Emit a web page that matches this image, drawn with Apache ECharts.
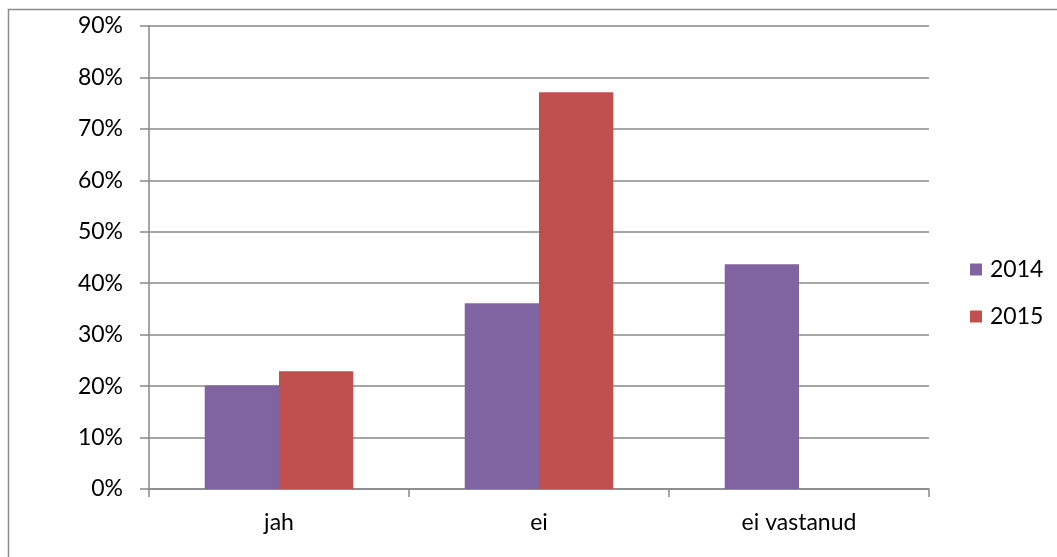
<!DOCTYPE html>
<html>
<head>
<meta charset="utf-8">
<script src="https://cdn.jsdelivr.net/npm/echarts@6/dist/echarts.min.js"></script>
<style>
html,body{margin:0;padding:0;background:#fff;}
#c{width:1057px;height:557px;}
</style>
</head>
<body>
<div id="c"></div>
<script>
const categories = ['jah', 'ei', 'ei vastanud'];
const seriesNames = ['2014', '2015'];
const values2014 = [20.1, 36.1, 43.7];
const values2015 = [22.9, 77.1, null];
const yTicks = {min: 0, max: 90, interval: 10};

const chart = echarts.init(document.getElementById('c'), null, {renderer: 'canvas'});
const font = 'Lato, "Open Sans", sans-serif';
chart.setOption({
  animation: false,
  backgroundColor: '#fff',
  graphic: [{
    type: 'rect',
    shape: {x: 8.5, y: 9.5, width: 1100, height: 600},
    style: {fill: 'none', stroke: '#8c8c8c', lineWidth: 1.5},
    silent: true
  }],
  grid: {left: 149, top: 26, right: 128, bottom: 68, containLabel: false},
  legend: {
    orient: 'vertical',
    left: 965,
    top: 253,
    itemWidth: 12,
    itemHeight: 12,
    itemGap: 24,
    icon: 'rect',
    data: seriesNames,
    textStyle: {fontFamily: font, fontSize: 23, color: '#000', lineHeight: 23, padding: [0, 0, 0, 3]}
  },
  xAxis: {
    type: 'category',
    data: categories,
    axisLine: {lineStyle: {color: '#888', width: 1.5}},
    axisTick: {show: true, length: 8, alignWithLabel: false, lineStyle: {color: '#888', width: 1.5}},
    axisLabel: {fontFamily: font, fontSize: 23, color: '#000', margin: 22}
  },
  yAxis: {
    type: 'value',
    min: yTicks.min, max: yTicks.max, interval: yTicks.interval,
    axisLine: {show: true, lineStyle: {color: '#888', width: 1.5}},
    axisTick: {show: true, length: 9, lineStyle: {color: '#888', width: 1.5}},
    splitLine: {show: true, lineStyle: {color: '#888', width: 1.5}},
    axisLabel: {fontFamily: font, fontSize: 23, color: '#000', margin: 26, formatter: '{value}%'}
  },
  series: [
    {name: seriesNames[0], type: 'bar', data: values2014, barGap: '0%', barCategoryGap: '42.86%',
     itemStyle: {color: '#8064A2'}},
    {name: seriesNames[1], type: 'bar', data: values2015, barGap: '0%', barCategoryGap: '42.86%',
     itemStyle: {color: '#C0504D'}}
  ]
});
</script>
</body>
</html>
